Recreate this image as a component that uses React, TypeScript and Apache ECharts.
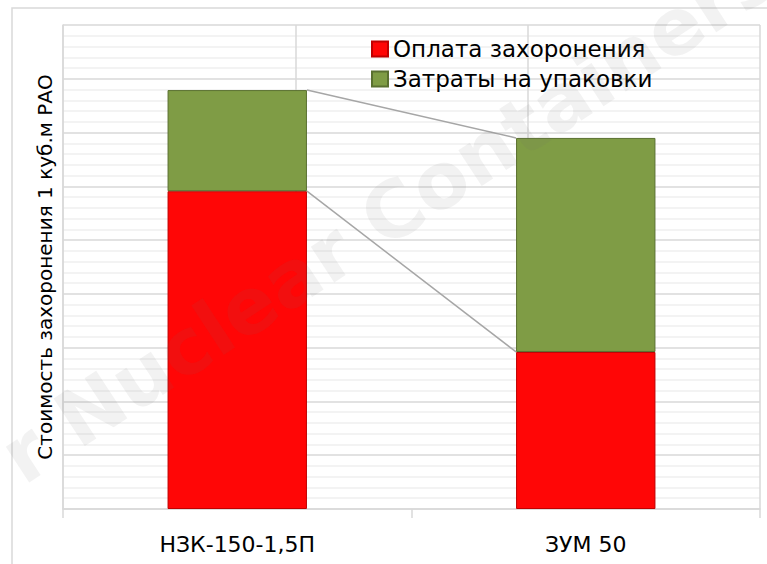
import React, { useEffect, useRef } from "react";
import * as echarts from "echarts";

const categories = ["НЗК-150-1,5П", "ЗУМ 50"];
const seriesNames = ["Оплата захоронения", "Затраты на упаковки"];
const disposalCost = [5.91, 2.92];
const packagingCost = [1.88, 3.98];
const yMax = 9;
const yInterval = 1;
const gridCategories = ["a", "b", "c", "d"];
const watermark = "r Nuclear Containers";

export default function App() {
  const ref = useRef<HTMLDivElement>(null);
  useEffect(() => {
    if (!ref.current) return;
    const chart = echarts.init(ref.current, undefined, { renderer: "svg" });
    const totals = disposalCost.map((v, i) => v + packagingCost[i]);
    const barFrac = 0.4;
    const option: any = {
      animation: false,
      backgroundColor: "#ffffff",
      grid: { left: 63, top: 25, width: 697, height: 484, containLabel: false },
      legend: {
        orient: "vertical",
        left: 371,
        top: 37,
        padding: 0,
        data: seriesNames,
        icon: "rect",
        itemWidth: 16,
        itemHeight: 15,
        itemGap: 6,
        textStyle: { fontFamily: "DejaVu Sans", fontSize: 23, color: "#000", lineHeight: 24 },
      },
      xAxis: [
        {
          type: "category",
          data: categories,
          boundaryGap: true,
          axisLine: { show: true, lineStyle: { color: "#d9d9d9", width: 1.5 } },
          axisTick: { show: true, length: 9, lineStyle: { color: "#d9d9d9", width: 1.5 } },
          axisLabel: { margin: 24, fontFamily: "DejaVu Sans", fontSize: 22, color: "#000" },
          splitLine: { show: false },
        },
        {
          type: "category",
          data: gridCategories,
          position: "bottom",
          boundaryGap: false,
          show: true,
          axisLine: { show: false },
          axisTick: { show: false },
          axisLabel: { show: false },
          splitLine: { show: true, lineStyle: { color: "#d9d9d9", width: 1.5 } },
        },
      ],
      yAxis: {
        type: "value",
        min: 0,
        max: yMax,
        interval: yInterval,
        name: "Стоимость захоронения 1 куб.м РАО",
        nameLocation: "middle",
        nameGap: 8,
        nameTextStyle: { fontFamily: "DejaVu Sans", fontSize: 20, color: "#000" },
        axisLine: { show: true, lineStyle: { color: "#d9d9d9", width: 1.5 } },
        axisTick: { show: false },
        axisLabel: { show: false },
        splitLine: { show: true, lineStyle: { color: "#d9d9d9", width: 1.5 } },
        minorTick: { show: false, splitNumber: 5 },
        minorSplitLine: { show: true, lineStyle: { color: "#efefef", width: 1.5 } },
      },
      series: [
        {
          name: seriesNames[0],
          type: "bar",
          stack: "total",
          barWidth: "40%",
          data: disposalCost,
          itemStyle: { color: "#ff0606", borderColor: "#c00000", borderWidth: 1 },
          z: 3,
        },
        {
          name: seriesNames[1],
          type: "bar",
          stack: "total",
          barWidth: "40%",
          data: packagingCost,
          itemStyle: { color: "#7f9c45", borderColor: "#5a7030", borderWidth: 1 },
          z: 3,
        },
        {
          type: "custom",
          name: "seriesLines",
          xAxisIndex: 0,
          yAxisIndex: 0,
          silent: true,
          encode: { x: 0, y: [1, 2] },
          data: [
            [0, disposalCost[0], disposalCost[1]],
            [0, totals[0], totals[1]],
          ],
          renderItem: (params: any, api: any) => {
            const a = api.coord([0, api.value(1)]);
            const b = api.coord([1, api.value(2)]);
            const half = (api.size([1, 0])[0] * barFrac) / 2;
            return {
              type: "line",
              shape: { x1: a[0] + half, y1: a[1], x2: b[0] - half, y2: b[1] },
              style: { stroke: "#a6a6a6", lineWidth: 1.5 },
            };
          },
          z: 2,
        },
      ],
      graphic: [
        {
          type: "rect",
          shape: { x: 12, y: 8, width: 800, height: 600 },
          style: { fill: "none", stroke: "#d9d9d9", lineWidth: 1.5 },
          z: -10,
          silent: true,
        },
        {
          type: "text",
          x: 388,
          y: 215,
          rotation: 0.58,
          silent: true,
          z: 100,
          style: {
            text: watermark,
            font: 'bold 78px "DejaVu Sans"',
            fill: "rgba(110,110,110,0.09)",
            textAlign: "center",
            textVerticalAlign: "middle",
          },
        },
      ],
    };
    chart.setOption(option);
    return () => chart.dispose();
  }, []);
  return (
    <div
      ref={ref}
      style={{ position: "fixed", left: 0, top: 0, width: 767, height: 564, background: "#fff" }}
    />
  );
}
